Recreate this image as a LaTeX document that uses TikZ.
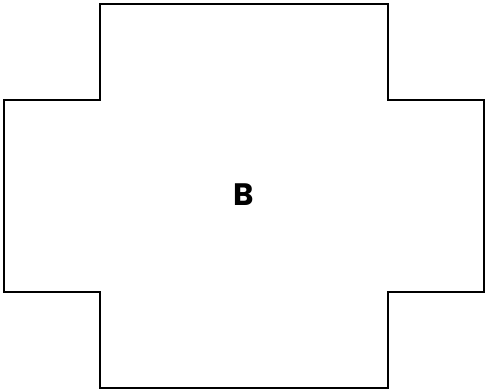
\documentclass[tikz,border=0pt]{standalone}
\usepackage{fontspec}
\setsansfont{Poppins}
\tikzset{
  outline/.style={draw,line width=1.5pt,line join=miter},
  roomlbl/.style={font=\sffamily\bfseries\fontsize{31}{34}\selectfont}
}
\begin{document}
\begin{tikzpicture}[x=1pt,y=-1pt]
  \useasboundingbox (0,0) rectangle (485,389);
  % Cross-shaped outline
  \draw[outline] (100,4) -- (388,4) -- (388,100) -- (484,100) -- (484,292)
    -- (388,292) -- (388,388) -- (100,388) -- (100,292) -- (4,292)
    -- (4,100) -- (100,100) -- cycle;
  % Label
  \node[roomlbl] (lblB) at (244,195) {B};
\end{tikzpicture}
\end{document}
